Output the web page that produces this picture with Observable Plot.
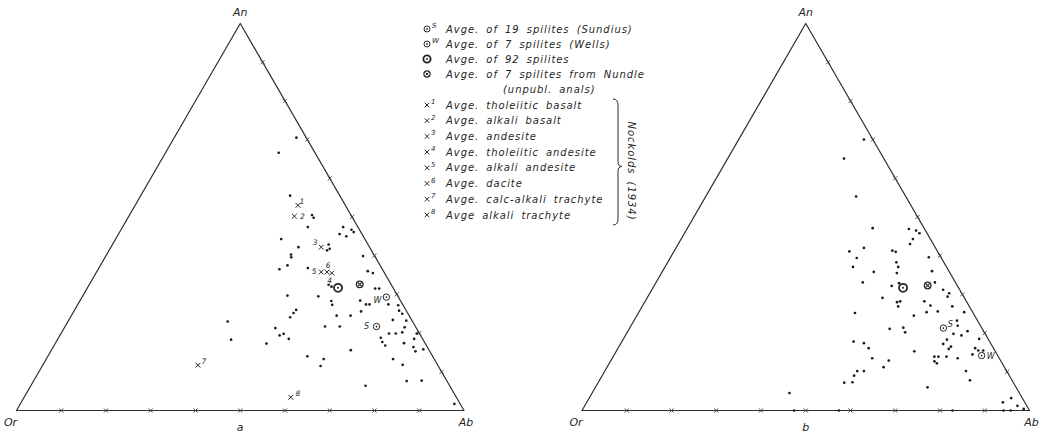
<!DOCTYPE html>
<html>
<head>
<meta charset="utf-8">
<script src="https://cdn.jsdelivr.net/npm/d3@7"></script>
<script src="https://cdn.jsdelivr.net/npm/@observablehq/plot@0.6"></script>
<style>
  html, body { margin: 0; padding: 0; background: #fff; }
  #fig { position: relative; width: 1043px; height: 434px; }
  #fig > svg { display: block; }
  #legend { position: absolute; left: 0; top: 0; pointer-events: none; }
</style>
</head>
<body>
<div id="fig"></div>
<script>
// Normative feldspar compositions, [An, Ab] in per cent (Or = 100 - An - Ab).

// Diagram a: individual spilite analyses
const dotsA = [
  [70.5, 27.3], [66.6, 25.3], [55.5, 33.4], [50.5, 40.8], [49.8, 41.5], [47.4, 41.4],
  [47.4, 49.3], [45.6, 49.4], [45.0, 51.2], [46.7, 51.5], [46.1, 52.3], [44.3, 37.0],
  [42.2, 41.9], [42.9, 48.3], [41.8, 49.1], [41.4, 48.7], [40.3, 41.2], [39.6, 41.6],
  [39.9, 57.5], [37.5, 41.8], [36.5, 40.5], [36.8, 46.7], [36.0, 60.5], [35.5, 61.9],
  [32.5, 53.5], [32.0, 54.4], [31.5, 64.4], [31.5, 65.3], [27.4, 69.4], [29.7, 45.7],
  [29.5, 52.7], [28.3, 56.2], [27.3, 56.9], [28.4, 62.6], [27.4, 64.4], [27.4, 65.2],
  [25.6, 64.2], [27.2, 71.7], [25.8, 72.6], [25.0, 73.7], [26.0, 49.5], [25.2, 49.3],
  [24.1, 49.1], [24.5, 59.3], [24.5, 62.4], [23.4, 72.4], [23.2, 75.5], [21.5, 76.0],
  [23.0, 35.7], [21.7, 58.1], [21.7, 61.4], [21.3, 47.2], [19.9, 73.3], [19.9, 74.8],
  [20.2, 76.1], [18.8, 72.0], [17.7, 72.9], [19.4, 49.1], [19.8, 49.8], [18.5, 51.6],
  [18.3, 38.8], [19.9, 79.5], [16.8, 74.0], [17.4, 77.9], [18.5, 79.6], [16.4, 80.5],
  [15.3, 81.5], [15.8, 83.0], [17.3, 47.2], [15.6, 66.9], [14.0, 58.0], [13.3, 62.0],
  [11.5, 62.2], [13.3, 77.5], [11.8, 80.4], [7.6, 83.4], [7.7, 86.7], [6.4, 74.8],
  [1.7, 97.0]
];

// Diagram b: individual spilite analyses
const dotsB = [
  [70.0, 28.0], [65.1, 26.0], [55.3, 33.6], [47.1, 41.4], [46.9, 49.6], [46.5, 51.4],
  [45.8, 52.5], [44.3, 51.8], [43.0, 51.8], [41.1, 39.2], [42.0, 42.0], [41.3, 48.7],
  [41.0, 49.6], [39.4, 41.7], [39.6, 57.7], [38.3, 51.1], [37.1, 52.1], [37.1, 42.0],
  [35.8, 47.3], [36.0, 60.2], [35.5, 52.6], [33.1, 46.2], [32.2, 53.1], [32.9, 54.4],
  [33.1, 62.3], [31.2, 65.1], [30.3, 66.9], [29.4, 67.0], [29.1, 52.6], [28.0, 56.4],
  [28.2, 57.0], [26.9, 57.2], [28.2, 62.4], [27.1, 64.3], [26.9, 69.3], [25.4, 64.3],
  [25.6, 66.7], [25.2, 48.4], [24.5, 61.9], [25.4, 72.7], [23.2, 72.2], [21.9, 73.0],
  [21.1, 58.2], [21.4, 61.1], [20.2, 62.1], [19.8, 73.1], [19.4, 75.1], [20.5, 75.9],
  [18.3, 72.4], [17.2, 72.1], [15.9, 74.0], [16.5, 74.2], [17.8, 51.8], [17.4, 54.3],
  [16.1, 56.0], [18.5, 79.5], [15.3, 66.6], [16.1, 79.8], [15.5, 80.8], [15.5, 81.9],
  [14.5, 80.0], [13.9, 71.8], [13.9, 72.7], [12.7, 72.4], [12.2, 73.2], [13.9, 74.5],
  [13.5, 77.2], [13.5, 58.1], [12.9, 62.1], [11.2, 61.8], [10.2, 80.7], [10.2, 56.4],
  [10.2, 57.9], [9.0, 56.3], [7.3, 56.8], [7.2, 55.0], [7.8, 82.8], [6.0, 74.2],
  [4.5, 44.1], [2.1, 93.0], [3.2, 94.3], [1.2, 96.7], [0.4, 98.5],
  [0, 47.4], [0, 57.4], [0, 82.8], [0, 94.2], [0, 95.8]
];

// Averages of spilites, [An, Ab] per diagram
const sundius = { a: [21.7, 69.6], b: [21.3, 70.1] };   // 19 spilites (Sundius)
const wells   = { a: [29.3, 68.0], b: [14.2, 82.2] };   // 7 spilites (Wells)
const avg92   = { a: [31.7, 56.0], b: [31.7, 55.9] };   // 92 spilites
const nundle  = { a: [32.6, 60.4], b: [32.3, 61.1] };   // 7 spilites from Nundle

// Nockolds averages x1..x8 (diagram a), [An, Ab]
const nockoldsIds = ["1", "2", "3", "4", "5", "6", "7", "8"];
const nockoldsValues = [
  [53.0, 36.4], [50.2, 37.0], [42.2, 47.0], [35.5, 52.7],
  [35.8, 50.2], [35.8, 51.5], [11.7, 34.7], [3.4, 59.6]
];

// Corners and tick values of the triangles
const cornerNames = ["Or", "Ab", "An"];
const cornerValues = [[0, 0], [0, 100], [100, 0]];
const tickValues = [10, 20, 30, 40, 50, 60, 70, 80, 90];
const panels = ["a", "b"];

// Legend texts
const legendSpilites = [
  { key: "sundius", sup: "S", text: "Avge. of 19 spilites (Sundius)" },
  { key: "wells",   sup: "W", text: "Avge. of 7 spilites (Wells)" },
  { key: "avg92",   sup: "",  text: "Avge. of 92 spilites" },
  { key: "nundle",  sup: "",  text: "Avge. of 7 spilites from Nundle" }
];
const legendNote = "(unpubl. anals)";
const legendNockolds = [
  "Avge. tholeiitic basalt",
  "Avge. alkali basalt",
  "Avge. andesite",
  "Avge. tholeiitic andesite",
  "Avge. alkali andesite",
  "Avge. dacite",
  "Avge. calc-alkali trachyte",
  "Avge alkali trachyte"
];
const legendSource = "Nockolds (1934)";

// ---------------------------------------------------------------------------
const FONT = "'DejaVu Sans', 'Liberation Sans', sans-serif";
const INK = "#262626";
const SQ = Math.sqrt(3) / 2;
// ternary -> cartesian (per cent units): Ab-corner right, An-corner on top
const tx = d => d.ab + d.an / 2;
const ty = d => d.an * SQ;

const rec = (panel, [an, ab], extra = {}) => ({ panel, an, ab, ...extra });
const dots = [
  ...dotsA.map(v => rec("a", v)),
  ...dotsB.map(v => rec("b", v))
];
const perPanel = (obj, key) => panels.map(p => rec(p, obj[p], { key }));
const rings = [...perPanel(sundius, "S"), ...perPanel(wells, "W")];
const bold = perPanel(avg92, "92");
const crossed = perPanel(nundle, "N");
const nockolds = nockoldsValues.map((v, i) => rec("a", v, { id: nockoldsIds[i] }));

const corners = cornerNames.map((name, i) => ({ name, an: cornerValues[i][0], ab: cornerValues[i][1] }));
const outline = [...corners, corners[0]];
const ticks = [
  ...tickValues.map(t => ({ an: t, ab: 100 - t })),   // An–Ab side
  ...tickValues.map(t => ({ an: 0, ab: t }))          // Or–Ab side
];

// label placements
const cornerOffset = { Or: [-6, 12], Ab: [2, 12], An: [0, -11] };
const nockoldsOffset = {
  "1": [4, -4], "2": [8, 0], "3": [-6, -5], "4": [-2, 7],
  "5": [-7, 0], "6": [1, -6], "7": [6, -4], "8": [7, -4]
};
const avgLabelOffset = { a: { S: [-10, 0], W: [-9, 3] }, b: { S: [7, -4], W: [9, 1] } };

const textStyle = { fontFamily: FONT, fontStyle: "italic", fill: INK };

const chart = Plot.plot({
  width: 1043,
  height: 434,
  marginLeft: 16,
  marginRight: 14,
  marginTop: 23,
  marginBottom: 24,
  fx: { domain: panels, paddingInner: 0.2087, paddingOuter: 0, round: false, axis: null, label: null },
  x: { domain: [0, 100], axis: null },
  y: { domain: [0, 100 * SQ], axis: null },
  style: { background: "#fff", fontFamily: FONT },
  marks: [
    Plot.line(outline, { x: tx, y: ty, stroke: "#2e2e2e", strokeWidth: 1.2 }),
    Plot.dot(ticks, { x: tx, y: ty, symbol: "times", r: 2, stroke: "#3a3a3a", strokeWidth: 0.9 }),
    ...corners.map(c => Plot.text([c], {
      x: tx, y: ty, text: "name", dx: cornerOffset[c.name][0], dy: cornerOffset[c.name][1],
      fontSize: 11, ...textStyle
    })),
    Plot.text(panels, { fx: d => d, x: 50, y: 0, text: d => d, dy: 17, fontSize: 11, ...textStyle }),

    Plot.dot(dots, { fx: "panel", x: tx, y: ty, r: 1.35, fill: "#1c1c1c" }),

    // Sundius and Wells averages
    Plot.dot(rings, { fx: "panel", x: tx, y: ty, r: 3.2, fill: "#fff", stroke: INK, strokeWidth: 1 }),
    Plot.dot(rings, { fx: "panel", x: tx, y: ty, r: 0.9, fill: INK }),
    ...panels.flatMap(p => ["S", "W"].map(k => Plot.text(rings.filter(d => d.panel === p && d.key === k), {
      fx: "panel", x: tx, y: ty, text: "key",
      dx: avgLabelOffset[p][k][0], dy: avgLabelOffset[p][k][1], fontSize: 8, ...textStyle
    }))),

    // average of 92 spilites
    Plot.dot(bold, { fx: "panel", x: tx, y: ty, r: 4, fill: "#fff", stroke: INK, strokeWidth: 1.8 }),
    Plot.dot(bold, { fx: "panel", x: tx, y: ty, r: 1, fill: INK }),

    // Nundle average
    Plot.dot(crossed, { fx: "panel", x: tx, y: ty, r: 3.3, fill: "#fff", stroke: INK, strokeWidth: 1.3 }),
    Plot.dot(crossed, { fx: "panel", x: tx, y: ty, r: 2, symbol: "times", stroke: INK, strokeWidth: 1.1 }),

    // Nockolds averages
    Plot.dot(nockolds, { fx: "panel", x: tx, y: ty, r: 2.3, symbol: "times", stroke: INK, strokeWidth: 1 }),
    ...nockolds.map(d => Plot.text([d], {
      fx: "panel", x: tx, y: ty, text: "id",
      dx: nockoldsOffset[d.id][0], dy: nockoldsOffset[d.id][1], fontSize: 7.5, ...textStyle
    }))
  ]
});
document.getElementById("fig").appendChild(chart);

// ---------------------------------------------------------------------------
// Legend between the two diagrams
const leg = d3.select("#fig").append("svg")
  .attr("id", "legend").attr("width", 1043).attr("height", 434);

const symX = 427, textX = 446;
const rowsTop = legendSpilites.map((d, i) => ({ ...d, y: 29 + i * 15 }));
const rowsNock = legendNockolds.map((t, i) => ({ text: t, sup: nockoldsIds[i], y: 105 + i * 15.7 }));

function symbol(g, key, x, y) {
  if (key === "avg92") {
    g.append("circle").attr("cx", x).attr("cy", y).attr("r", 3.6)
      .attr("fill", "#fff").attr("stroke", INK).attr("stroke-width", 1.9);
    g.append("circle").attr("cx", x).attr("cy", y).attr("r", 1).attr("fill", INK);
  } else if (key === "nundle") {
    g.append("circle").attr("cx", x).attr("cy", y).attr("r", 3.1)
      .attr("fill", "#fff").attr("stroke", INK).attr("stroke-width", 1.2);
    g.append("path").attr("d", `M${x - 1.5},${y - 1.5}L${x + 1.5},${y + 1.5}M${x - 1.5},${y + 1.5}L${x + 1.5},${y - 1.5}`)
      .attr("stroke", INK).attr("stroke-width", 1);
  } else {
    g.append("circle").attr("cx", x).attr("cy", y).attr("r", 3)
      .attr("fill", "#fff").attr("stroke", INK).attr("stroke-width", 1);
    g.append("circle").attr("cx", x).attr("cy", y).attr("r", 0.9).attr("fill", INK);
  }
}

function label(g, x, y, str, size = 10) {
  return g.append("text").attr("x", x).attr("y", y).text(str)
    .attr("font-family", FONT).attr("font-style", "italic").attr("font-size", size)
    .attr("fill", INK).attr("letter-spacing", 0.95).attr("word-spacing", 3);
}

rowsTop.forEach(d => {
  symbol(leg, d.key, symX, d.y);
  if (d.sup) label(leg, symX + 5, d.y - 1.5, d.sup, 7).attr("letter-spacing", 0);
  label(leg, textX, d.y + 3.6, d.text);
});
label(leg, 503, 89.5 + 3.6, legendNote);

rowsNock.forEach(d => {
  leg.append("path")
    .attr("d", `M${symX - 2.3},${d.y - 2.3}L${symX + 2.3},${d.y + 2.3}M${symX - 2.3},${d.y + 2.3}L${symX + 2.3},${d.y - 2.3}`)
    .attr("stroke", INK).attr("stroke-width", 1);
  label(leg, symX + 4, d.y - 1, d.sup, 7).attr("letter-spacing", 0);
  label(leg, textX, d.y + 3.6, d.text);
});

// brace grouping the Nockolds averages
const bTop = 99, bBot = 225, bMid = 166.5, bx = 618;
leg.append("path")
  .attr("d", `M${bx - 5},${bTop} Q${bx},${bTop} ${bx},${bTop + 6} L${bx},${bMid - 5} Q${bx},${bMid} ${bx + 4},${bMid}` +
             ` Q${bx},${bMid} ${bx},${bMid + 5} L${bx},${bBot - 6} Q${bx},${bBot} ${bx - 5},${bBot}`)
  .attr("fill", "none").attr("stroke", INK).attr("stroke-width", 1);

label(leg, 0, 0, legendSource)
  .attr("text-anchor", "middle")
  .attr("transform", "translate(628,171) rotate(90)");
</script>
</body>
</html>
